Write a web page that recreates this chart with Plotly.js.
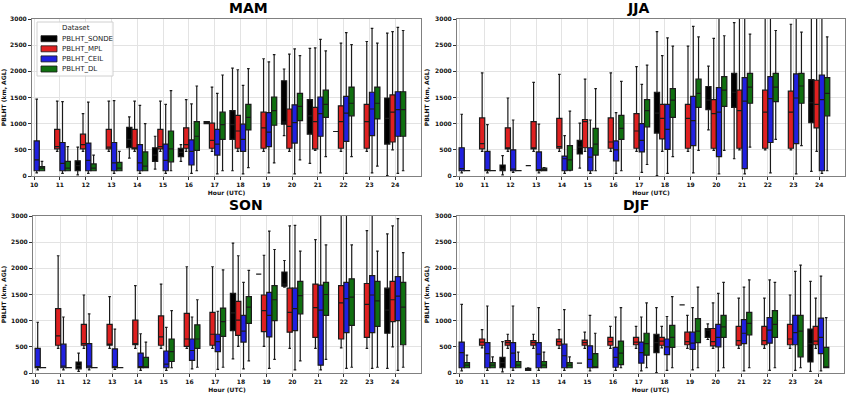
<!DOCTYPE html>
<html><head><meta charset="utf-8">
<script src="https://cdn.plot.ly/plotly-3.0.1.min.js"></script>
<style>html,body{margin:0;padding:0;background:#fff}#chart{width:850px;height:395px}</style>
</head><body><div id="chart"></div>
<script>
// rows: [hour, lowerWhisker, q1, median, q3, upperWhisker]  (PBLHT, m AGL)
const SEASONS = ['MAM', 'JJA', 'SON', 'DJF'];
const SERIES = ['PBLHT_SONDE', 'PBLHT_MPL', 'PBLHT_CEIL', 'PBLHT_DL'];
const HOURS = [10,11,12,13,14,15,16,17,18,19,20,21,22,23,24];
const Y_TICKS = [0,500,1000,1500,2000,2500,3000];

const MAM_SONDE = [[12,20,100,200,290,550],[14,340,540,700,930,1130],[15,130,280,400,540,760],[16,280,370,450,530,600],
  [17,1000,1000,1020,1040,1040],[18,100,700,980,1250,2060],[20,770,990,1030,1820,2045],[21,240,800,1150,1460,2440],
  [22,850,850,850,850,850],[24,10,610,1100,1490,2730]];
const MAM_MPL = [[11,470,520,560,890,1430],[12,470,520,600,800,1190],[13,470,520,550,890,1430],[14,470,520,540,890,1430],
  [15,470,520,560,890,1430],[16,470,530,600,920,1460],[17,470,530,680,1010,1700],[18,470,530,860,1160,2030],
  [19,470,530,920,1220,2240],[20,470,530,950,1280,2330],[21,490,520,1040,1310,2450],[22,470,530,1040,1340,2540],
  [23,470,530,1040,1370,2570],[24,500,650,1220,1550,2760]];
const MAM_CEIL = [[10,60,100,310,670,1470],[11,50,100,240,640,1420],[12,50,100,300,630,1410],[13,50,100,250,640,1440],
  [14,50,100,250,600,1350],[15,50,100,300,610,1370],[16,50,210,470,690,1380],[17,40,400,610,890,1580],
  [18,40,470,700,990,1730],[19,60,560,840,1210,2180],[20,40,630,1020,1360,2430],[21,60,760,1190,1510,2610],
  [22,50,660,1200,1520,2740],[23,60,770,1280,1600,2820],[24,50,760,1270,1610,2840]];
const MAM_DL = [[10,100,100,150,180,280],[11,100,100,150,280,560],[12,100,100,150,230,400],[13,100,100,150,260,470],
  [14,100,100,190,460,1000],[15,100,270,520,860,1630],[16,100,490,760,1040,1720],[17,100,700,980,1220,1930],
  [18,160,880,1120,1370,2050],[19,250,970,1250,1510,2320],[20,310,1060,1330,1580,2300],[21,370,1120,1370,1640,2390],
  [22,370,1150,1390,1700,2510],[23,190,1090,1390,1700,2540],[24,100,760,1270,1610,2780]];

const JJA_SONDE = [[12,20,100,130,210,390],[13,200,200,200,200,200],[15,150,420,550,680,1010],[18,10,820,1200,1600,2760],
  [20,880,1270,1450,1710,2100],[21,330,1310,1600,1960,2930],[24,90,1020,1400,1840,3200]];
const JJA_MPL = [[11,470,520,620,1110,1970],[12,470,520,540,920,1490],[13,470,520,540,1040,1790],[14,470,530,560,1100,1940],
  [15,470,540,1040,1080,1850],[16,470,530,650,1110,1970],[17,470,530,860,1190,2090],[18,470,710,1100,1370,2300],
  [19,470,530,1100,1370,2480],[20,490,530,1190,1460,2630],[21,500,530,1250,1640,3200],[22,500,530,1220,1640,3200],
  [23,500,530,1220,1620,2900],[24,470,920,1370,1830,3200]];
const JJA_CEIL = [[10,60,100,140,540,1180],[11,60,100,120,470,980],[12,70,100,130,500,1070],[13,60,100,120,460,990],
  [14,50,100,330,380,770],[15,50,100,360,540,1070],[16,50,290,500,670,1210],[17,70,460,680,1000,1750],
  [18,50,510,890,1370,2640],[19,60,580,1060,1520,2860],[20,40,370,1220,1690,3200],[21,40,140,1430,1880,3200],
  [22,60,640,1480,1900,3200],[23,40,620,1490,1950,3200],[24,50,100,1460,1930,3200]];
const JJA_DL = [[10,100,100,100,105,105],[11,100,100,100,105,105],[12,100,100,100,105,105],[13,100,100,120,150,160],
  [14,100,110,310,580,1240],[15,100,400,610,910,1670],[16,100,700,910,1160,1810],[17,220,940,1250,1460,2120],
  [18,370,1120,1450,1670,2480],[19,490,1310,1580,1850,2660],[20,490,1330,1640,1900,2680],[21,550,1390,1700,1960,2710],
  [22,700,1420,1700,1960,2780],[23,580,1390,1720,1960,2750],[24,100,1150,1580,1880,2660]];

const SON_SONDE = [[12,30,80,140,210,380],[18,270,810,1150,1520,2480],[19,1890,1890,1890,1890,1890],
  [20,1640,1660,1700,1930,2150],[24,90,760,1200,1620,2660]];
const SON_MPL = [[11,470,530,710,1230,2240],[12,470,530,560,930,1490],[13,470,530,550,930,1460],[14,470,540,560,1010,1670],
  [15,470,530,690,1090,1700],[16,470,510,650,1140,2030],[17,470,530,740,1160,2030],[18,510,720,1010,1370,2240],
  [19,510,790,1190,1490,2250],[20,470,780,1160,1620,2810],[21,470,680,1250,1700,2550],[22,480,650,1340,1670,3200],
  [23,470,680,1310,1710,2720],[24,500,980,1400,1750,2810]];
const SON_CEIL = [[10,60,100,120,470,970],[11,60,100,130,550,1070],[12,60,100,130,560,1130],[13,70,100,120,460,840],
  [14,50,100,120,380,750],[15,50,100,170,420,870],[16,80,240,430,650,1070],[17,70,410,600,740,1180],
  [18,80,590,800,1100,1730],[19,90,690,1100,1540,2710],[20,60,810,1230,1620,2820],[21,60,150,1200,1680,3200],
  [22,90,770,1420,1730,3200],[23,90,770,1490,1860,3200],[24,50,1000,1470,1840,2950]];
const SON_DL = [[10,100,100,100,105,105],[11,100,100,100,105,105],[12,100,100,100,105,105],[13,100,100,100,105,105],
  [14,100,100,110,300,590],[15,100,220,410,650,1190],[16,110,470,650,920,1400],[17,110,700,980,1240,1970],
  [18,230,950,1260,1460,1960],[19,260,1000,1400,1670,2360],[20,230,1130,1480,1750,2330],[21,260,1100,1500,1730,2450],
  [22,110,910,1450,1800,2450],[23,110,890,1380,1750,2330],[24,110,540,1260,1730,2300]];

const DJF_SONDE = [[12,20,100,200,300,600],[13,50,50,70,90,100],[15,190,190,190,190,190],[18,10,390,580,740,1250],
  [19,1300,1300,1300,1300,1300],[20,640,680,820,850,940],[24,30,210,560,840,1750]];
const DJF_MPL = [[11,480,530,590,650,830],[12,470,530,580,620,740],[13,470,530,580,620,740],[14,470,530,600,650,830],
  [15,470,530,580,630,780],[16,470,530,600,680,890],[17,470,540,590,680,890],[18,480,530,610,680,890],
  [19,470,540,600,780,1100],[20,470,520,600,850,1340],[21,470,530,620,890,1430],[22,470,540,620,890,1430],
  [23,470,540,650,930,1490],[24,470,540,610,890,1430]];
const DJF_CEIL = [[10,40,100,390,590,1310],[11,50,100,370,580,1280],[12,50,100,380,580,1280],[13,50,100,360,580,1250],
  [14,50,100,330,550,1210],[15,40,100,260,520,1100],[16,50,110,300,490,1070],[17,40,190,390,590,1070],
  [18,50,350,500,650,1080],[19,60,450,570,780,1250],[20,40,500,680,930,1520],[21,40,560,760,1020,1640],
  [22,50,570,820,1060,1780],[23,50,540,770,1100,1940],[24,40,370,680,1050,1850]];
const DJF_DL = [[10,100,100,150,200,340],[11,100,100,150,200,310],[12,100,100,150,220,400],[13,100,100,150,220,400],
  [14,100,100,150,200,310],[15,100,100,110,370,760],[16,100,160,380,610,1250],[17,100,340,560,760,1340],
  [18,100,490,680,910,1460],[19,100,580,800,1040,1640],[20,100,680,880,1100,1730],[21,100,730,950,1160,1780],
  [22,100,680,930,1190,1730],[23,100,310,800,1100,2060],[24,100,100,100,490,1060]];

const PANEL_DATA = [
  [MAM_SONDE, MAM_MPL, MAM_CEIL, MAM_DL],
  [JJA_SONDE, JJA_MPL, JJA_CEIL, JJA_DL],
  [SON_SONDE, SON_MPL, SON_CEIL, SON_DL],
  [DJF_SONDE, DJF_MPL, DJF_CEIL, DJF_DL]
];
const COLORS = ['#000000', '#df2020', '#2020df', '#107010'];

const FONT = 'DejaVu Sans, Liberation Sans, sans-serif';
const axisIds = [['x','y'],['x2','y2'],['x3','y3'],['x4','y4']];
const traces = [];
PANEL_DATA.forEach((series, p) => {
  series.forEach((rows, s) => {
    traces.push({
      type: 'box',
      name: SERIES[s],
      legendgroup: SERIES[s],
      offsetgroup: SERIES[s],
      alignmentgroup: 'panel' + p,
      showlegend: false,
      x: rows.map(r => r[0]),
      lowerfence: rows.map(r => r[1]),
      q1: rows.map(r => r[2]),
      median: rows.map(r => r[3]),
      q3: rows.map(r => r[4]),
      upperfence: rows.map(r => r[5]),
      fillcolor: COLORS[s],
      line: {color: '#1a1a1a', width: 1.2},
      whiskerwidth: 0.5,
      boxpoints: false,
      hoverinfo: 'skip',
      xaxis: axisIds[p][0], yaxis: axisIds[p][1]
    });
  });
});

const xDomains = [[32/850, 421/850], [457/850, 845/850], [33/850, 421/850], [457/850, 844/850]];
const yDomains = [[(395-176)/395, (395-19)/395], [(395-176)/395, (395-19)/395], [(395-373)/395, (395-216)/395], [(395-373)/395, (395-216)/395]];

function xAxis(p) {
  return {
    domain: xDomains[p], anchor: axisIds[p][1], range: [9.92, 25.0],
    tickvals: HOURS, ticktext: HOURS.map(String),
    showgrid: true, gridcolor: '#e3e3e3', gridwidth: 1,
    showline: true, linecolor: '#808080', linewidth: 1, mirror: true,
    ticks: 'outside', ticklen: 3, tickcolor: '#333', zeroline: false,
    tickfont: {family: FONT, size: 6, color: '#111', weight: 'bold'},
    title: {text: 'Hour (UTC)', font: {family: FONT, size: 6, color: '#111', weight: 'bold'}, standoff: 3}
  };
}
function yAxis(p) {
  return {
    domain: yDomains[p], anchor: axisIds[p][0], range: [0, 3000],
    tickvals: Y_TICKS, ticktext: Y_TICKS.map(String),
    showgrid: true, gridcolor: '#e3e3e3', gridwidth: 1,
    showline: true, linecolor: '#808080', linewidth: 1, mirror: true,
    ticks: 'outside', ticklen: 3, tickcolor: '#333', zeroline: false,
    tickfont: {family: FONT, size: 6, color: '#111', weight: 'bold'},
    title: {text: 'PBLHT (km, AGL)', font: {family: FONT, size: 6, color: '#111', weight: 'bold'}, standoff: 4}
  };
}

// custom compact legend (paper coordinates from pixel positions)
const px = v => v / 850, py = v => 1 - v / 395;
const shapes = [{type: 'rect', xref: 'paper', yref: 'paper', x0: px(37), x1: px(113), y0: py(22), y1: py(76),
  fillcolor: 'rgba(255,255,255,0.85)', line: {color: '#d0d0d0', width: 1}}];
const annotations = SEASONS.map((t, p) => ({
  text: '<b>' + t + '</b>', xref: 'paper', yref: 'paper',
  x: (xDomains[p][0] + xDomains[p][1]) / 2, y: yDomains[p][1], yanchor: 'bottom', yshift: 1,
  showarrow: false, font: {family: FONT, size: 14, color: '#000'}
}));
annotations.push({text: 'Dataset', xref: 'paper', yref: 'paper', x: px(76), y: py(28), xanchor: 'center', yanchor: 'middle',
  showarrow: false, font: {family: FONT, size: 7, color: '#222'}});
SERIES.forEach((name, s) => {
  const cy = 38.7 + s * 10.1;
  shapes.push({type: 'rect', xref: 'paper', yref: 'paper', x0: px(41), x1: px(57), y0: py(cy - 3), y1: py(cy + 3),
    fillcolor: COLORS[s], line: {color: '#1a1a1a', width: 0.8}});
  annotations.push({text: name, xref: 'paper', yref: 'paper', x: px(60), y: py(cy), xanchor: 'left', yanchor: 'middle',
    showarrow: false, font: {family: FONT, size: 7, color: '#222'}});
});

const layout = {
  width: 850, height: 395,
  margin: {l: 0, r: 0, t: 0, b: 0},
  paper_bgcolor: '#ffffff', plot_bgcolor: '#ffffff',
  boxmode: 'group', boxgap: 0.18, boxgroupgap: 0.02,
  xaxis: xAxis(0), yaxis: yAxis(0),
  xaxis2: xAxis(1), yaxis2: yAxis(1),
  xaxis3: xAxis(2), yaxis3: yAxis(2),
  xaxis4: xAxis(3), yaxis4: yAxis(3),
  showlegend: false,
  shapes: shapes,
  annotations: annotations
};

Plotly.newPlot('chart', traces, layout, {staticPlot: true, displayModeBar: false});
</script></body></html>
